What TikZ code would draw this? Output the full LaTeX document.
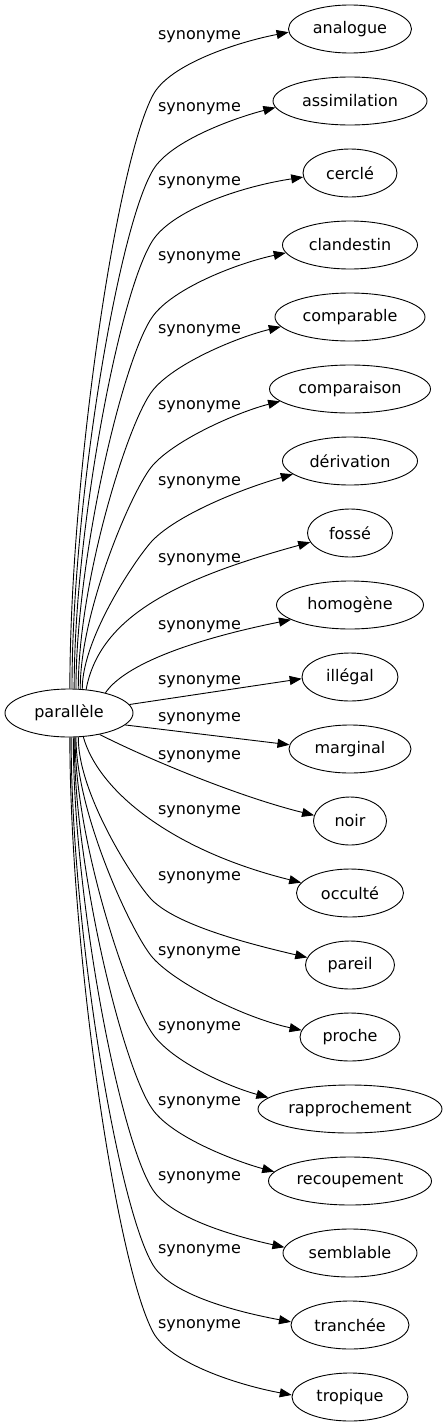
\documentclass[tikz,border=0pt]{standalone}
\usepackage{fontspec}
\setmainfont{DejaVu Sans}
\usetikzlibrary{shapes.geometric,arrows.meta}
\begin{document}
\begin{tikzpicture}[x=1pt,y=-1pt,
  word/.style={draw, ellipse, minimum height=48pt, inner sep=0pt, line width=0.9pt,
    font=\fontsize{16}{19}\selectfont},
  lab/.style={inner sep=0pt, font=\fontsize{16}{19}\selectfont},
  edge/.style={line width=0.9pt, -{Triangle[length=12pt,width=9pt]}}
]
\useasboundingbox (0,0) rectangle (447,1427);
\node[word, minimum width=128pt] (p) at (69,713) {parallèle};
\node[word, minimum width=123pt] (n0) at (350,29) {analogue};
\node[word, minimum width=154pt] (n1) at (350,101) {assimilation};
\node[word, minimum width=94pt] (n2) at (350,173) {cerclé};
\node[word, minimum width=135pt] (n3) at (350,245) {clandestin};
\node[word, minimum width=150pt] (n4) at (350,317) {comparable};
\node[word, minimum width=161pt] (n5) at (350,389) {comparaison};
\node[word, minimum width=135pt] (n6) at (350,461) {dérivation};
\node[word, minimum width=85pt] (n7) at (350,533) {fossé};
\node[word, minimum width=147pt] (n8) at (350,605) {homogène};
\node[word, minimum width=96pt] (n9) at (350,677) {illégal};
\node[word, minimum width=122pt] (n10) at (350,749) {marginal};
\node[word, minimum width=73pt] (n11) at (350,821) {noir};
\node[word, minimum width=107pt] (n12) at (350,893) {occulté};
\node[word, minimum width=89pt] (n13) at (350,965) {pareil};
\node[word, minimum width=100pt] (n14) at (350,1037) {proche};
\node[word, minimum width=184pt] (n15) at (350,1109) {rapprochement};
\node[word, minimum width=163pt] (n16) at (350,1181) {recoupement};
\node[word, minimum width=134pt] (n17) at (350,1253) {semblable};
\node[word, minimum width=118pt] (n18) at (350,1325) {tranchée};
\node[word, minimum width=116pt] (n19) at (350,1397) {tropique};

\node[lab] (l0) at (199.5,37) {synonyme};
\node[lab] (l1) at (199.5,109) {synonyme};
\node[lab] (l2) at (199.5,183) {synonyme};
\node[lab] (l3) at (199.5,258) {synonyme};
\node[lab] (l4) at (199.5,331) {synonyme};
\node[lab] (l5) at (199.5,407) {synonyme};
\node[lab] (l6) at (199.5,483) {synonyme};
\node[lab] (l7) at (199.5,560) {synonyme};
\node[lab] (l8) at (199.5,627) {synonyme};
\node[lab] (l9) at (199.5,682) {synonyme};
\node[lab] (l10) at (199.5,719) {synonyme};
\node[lab] (l11) at (199.5,757) {synonyme};
\node[lab] (l12) at (199.5,812) {synonyme};
\node[lab] (l13) at (199.5,878) {synonyme};
\node[lab] (l14) at (199.5,953) {synonyme};
\node[lab] (l15) at (199.5,1028) {synonyme};
\node[lab] (l16) at (199.5,1103) {synonyme};
\node[lab] (l17) at (199.5,1178) {synonyme};
\node[lab] (l18) at (199.5,1251) {synonyme};
\node[lab] (l19) at (199.5,1326) {synonyme};

% upper edges
\draw[edge] (p.88) .. controls (70,481) and (115.5,165.6) .. (153,95)
  .. controls (169.4,64.1) and (238,42) .. (n0.183);
\draw[edge] (p.83) .. controls (72,507) and (117.2,230.1) .. (153,170)
  .. controls (170.9,139.9) and (238,117) .. (n1.185);
\draw[edge] (p.78) .. controls (74,532) and (119.3,290.8) .. (153,240)
  .. controls (172.4,210.8) and (238,187) .. (n2.185);
\draw[edge] (p.74) .. controls (76,558) and (123.3,356.3) .. (153,316)
  .. controls (173.8,287.8) and (238,263) .. (n3.187);
\draw[edge] (p.69) .. controls (78,584) and (127.7,421) .. (153,390)
  .. controls (175.1,362.9) and (238,337) .. (n4.188);
\draw[edge] (p.65) .. controls (80,611) and (132.9,487.3) .. (153,465)
  .. controls (176.4,439) and (238,412) .. (n5.190);
\draw[edge] (p.61) .. controls (82,637) and (138.9,554.2) .. (153,540)
  .. controls (177.6,515.1) and (238,490) .. (n6.193);
\draw[edge] (p.54) .. controls (100,615) and (180,578) .. (n7.193);
\draw[edge] (p.29) .. controls (128,660) and (210,636) .. (n8.194);
\draw[edge] (p.8) -- (n9.182);
% lower edges
\draw[edge] (p.348) -- (n10.176);
\draw[edge] (p.325) .. controls (150,760) and (240,797) .. (n11.171);
\draw[edge] (p.301) .. controls (98,790) and (170,850) .. (n12.168);
\draw[edge] (p.291) .. controls (78,795) and (136.4,884.4) .. (152,900)
  .. controls (176.7,924.7) and (245,943) .. (n13.170);
\draw[edge] (p.286) .. controls (76,814) and (132.9,935.7) .. (153,958)
  .. controls (176.4,984) and (245,1018) .. (n14.172);
\draw[edge] (p.284) .. controls (75,842) and (129.7,1006) .. (155,1037)
  .. controls (177.1,1064.1) and (230,1087) .. (n15.172);
\draw[edge] (p.282) .. controls (74,868) and (123.3,1069.8) .. (153,1110)
  .. controls (173.8,1138.2) and (238,1162) .. (n16.173);
\draw[edge] (p.280) .. controls (73,896) and (119.3,1139.2) .. (153,1190)
  .. controls (172.4,1219.2) and (238,1237) .. (n17.175);
\draw[edge] (p.275) .. controls (71,922) and (116.6,1204) .. (153,1265)
  .. controls (170.9,1295.1) and (238,1312) .. (n18.177);
\draw[edge] (p.272) .. controls (70,945) and (115.5,1261.4) .. (153,1332)
  .. controls (169.4,1362.9) and (238,1385) .. (n19.178);
\end{tikzpicture}
\end{document}
